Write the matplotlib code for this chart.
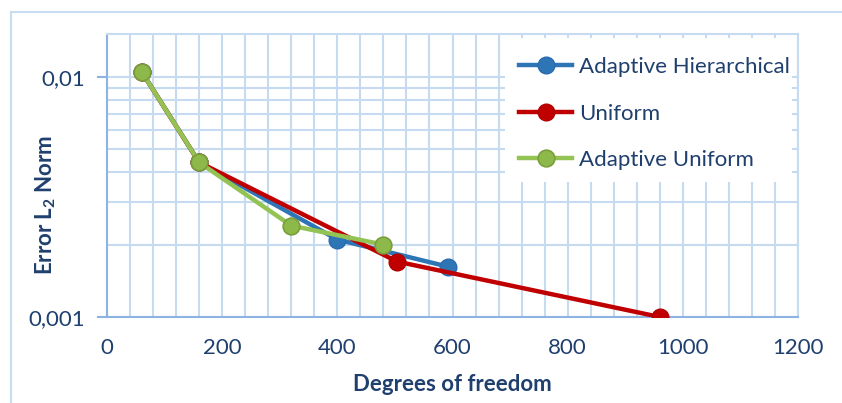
import matplotlib
matplotlib.use("Agg")
import matplotlib.pyplot as plt
from matplotlib.ticker import FixedLocator, NullFormatter, LogLocator
from matplotlib.patches import Rectangle

plt.rcParams['font.family'] = ['Lato', 'DejaVu Sans']
plt.rcParams['mathtext.fontset'] = 'custom'
plt.rcParams['mathtext.bf'] = 'Lato:bold'
plt.rcParams['mathtext.rm'] = 'Lato'

# Data
hier_x = [60, 160, 400, 592]
hier_y = [0.0105, 0.0044, 0.0021, 0.00162]
unif_x = [60, 160, 504, 960]
unif_y = [0.0105, 0.0044, 0.0017, 0.0010]
adun_x = [60, 160, 320, 480]
adun_y = [0.0105, 0.0044, 0.0024, 0.0020]

labels = ["Adaptive Hierarchical", "Uniform", "Adaptive Uniform"]
ytick_vals = [0.001, 0.01]
ytick_labels = ["0,001", "0,01"]
xtick_vals = [0, 200, 400, 600, 800, 1000, 1200]

TXT = '#1F3F6E'
GRID = '#C6DBEF'
AX = '#8DB3E2'
FS = 16

W, H = 842, 403
fig = plt.figure(figsize=(W / 100, H / 100), dpi=100)
fig.patches.append(Rectangle((11 / W, -0.1), 1.2, 1 - 12 / H + 0.1, transform=fig.transFigure,
                             fill=False, edgecolor='#C9DDF2', linewidth=1.5))

ax = fig.add_axes([107 / W, 1 - 317 / H, (798 - 107) / W, (317 - 34) / H])
ax.set_yscale('log')
ax.set_xlim(0, 1200)
ax.set_ylim(0.001, 0.01505)

ax.xaxis.set_major_locator(FixedLocator(xtick_vals))
ax.xaxis.set_minor_locator(FixedLocator(list(range(0, 1201, 40))))
ax.yaxis.set_major_locator(FixedLocator(ytick_vals))
ax.yaxis.set_minor_locator(LogLocator(base=10, subs=range(2, 10)))
ax.yaxis.set_minor_formatter(NullFormatter())
ax.set_yticklabels(ytick_labels)
ax.set_xticklabels([str(v) for v in xtick_vals])

ax.grid(True, which='both', color=GRID, linewidth=1.5)
ax.set_axisbelow(True)
ax.tick_params(axis='x', which='both', length=0, labelsize=FS, labelcolor=TXT, pad=15)
ax.tick_params(axis='y', which='major', length=7, width=1.5, color=AX, labelsize=FS,
               labelcolor=TXT, pad=9)
ax.tick_params(axis='y', which='minor', length=0)

for s in ['top', 'right']:
    ax.spines[s].set_color(GRID)
    ax.spines[s].set_linewidth(1.5)
for s in ['left', 'bottom']:
    ax.spines[s].set_color(AX)
    ax.spines[s].set_linewidth(1.5)

# white legend background box (covers gridlines)
ax.add_patch(Rectangle((505 / W, 1 - 182 / H), (792 - 505) / W, (182 - 38) / H,
                       transform=fig.transFigure, facecolor='white', edgecolor='none', zorder=1))

ax.plot(hier_x, hier_y, '-o', color='#2E75B6', lw=3.2, ms=12, mfc='#2E75B6', mec='#2A6AAE',
        label=labels[0], zorder=3)
ax.plot(unif_x, unif_y, '-o', color='#C00000', lw=3.2, ms=12, mfc='#C00000', mec='#B00000',
        label=labels[1], zorder=4)
ax.plot(adun_x, adun_y, '-o', color='#92C353', lw=3.2, ms=12, mfc='#8DB84A', mec='#7A9E3C',
        mew=1.2, label=labels[2], zorder=5)

ax.set_xlabel('Degrees of freedom', fontsize=FS, fontweight='bold', color=TXT)
ax.xaxis.set_label_coords(0.5, -0.24)
ax.xaxis.label.set_va('center')
ax.set_ylabel(r'Error L$_\mathbf{2}$ Norm', fontsize=FS, fontweight='bold', color=TXT)
ax.yaxis.set_label_coords(-0.088, 0.396)
ax.yaxis.label.set_va('center')

leg = ax.legend(loc='upper left', bbox_to_anchor=(500 / W, 1 - 38 / H), bbox_transform=fig.transFigure,
                fontsize=FS, frameon=False, handlelength=2.4, handletextpad=0.3,
                labelspacing=1.2, borderpad=0.85, borderaxespad=0)
for t in leg.get_texts():
    t.set_color(TXT)

fig.savefig('out.png', dpi=100)
